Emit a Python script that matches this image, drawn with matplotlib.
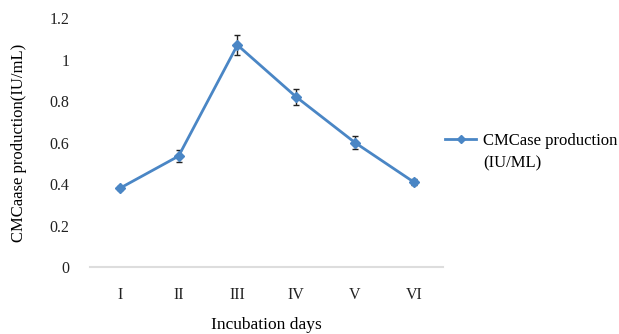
import matplotlib
matplotlib.use("Agg")
import matplotlib.pyplot as plt
from matplotlib.lines import Line2D

days = ["I", "II", "III", "IV", "V", "VI"]
cmcase = [0.38, 0.535, 1.07, 0.82, 0.60, 0.41]
err = [0.01, 0.03, 0.05, 0.04, 0.03, 0.015]

plt.rcParams['font.family'] = ['Liberation Serif', 'DejaVu Serif']

fig = plt.figure(figsize=(6.19, 3.34), dpi=100)
ax = fig.add_axes([0.146, 0.2, 0.57, 0.746])

x = list(range(len(days)))
ax.errorbar(x, cmcase, yerr=err, color='#4a86c5', lw=2, marker='D', ms=5.5,
            ecolor='#222222', elinewidth=1, capsize=2.5, capthick=1)

ax.set_xlim(-0.5, len(days) - 0.5)
ax.set_ylim(0, 1.2)
ax.set_yticks([0, 0.2, 0.4, 0.6, 0.8, 1.0, 1.2])
ax.set_yticklabels(['0', '0.2', '0.4', '0.6', '0.8', '1', '1.2'])
ax.set_xticks(x)
ax.set_xticklabels(days)
ax.tick_params(axis='both', length=0, labelsize=11.5, colors='#222222')
ax.tick_params(axis='x', pad=14)
ax.tick_params(axis='y', pad=15)
for s in ['top', 'right', 'left']:
    ax.spines[s].set_visible(False)
ax.spines['bottom'].set_color('#dddddd')
ax.spines['bottom'].set_linewidth(1.5)

ax.set_xlabel('Incubation days', fontsize=12.5, labelpad=10)
ax.set_ylabel('CMCaase production(IU/mL)', fontsize=12, labelpad=16)

handle = Line2D([], [], color='#4a86c5', lw=2, marker='D', ms=4)
blank = Line2D([], [], linestyle='none')
leg = ax.legend([handle, blank], ['CMCase production', '(IU/ML)'],
                loc='upper left', bbox_to_anchor=(0.962, 0.60), frameon=False,
                fontsize=12, handlelength=1.9, handletextpad=0.4,
                labelspacing=0.4)

fig.savefig('out.png', dpi=100)
